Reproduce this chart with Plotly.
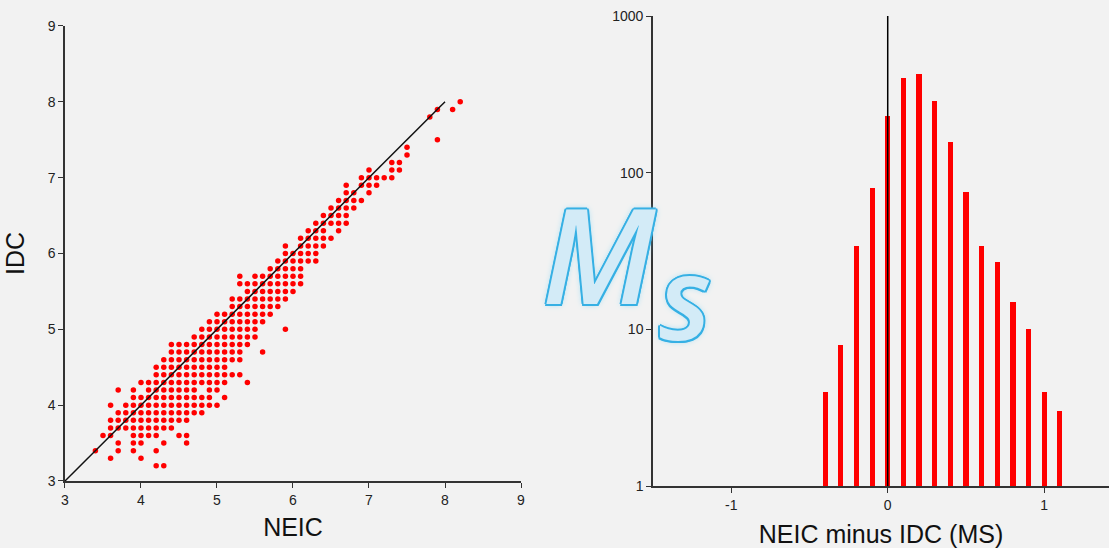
import plotly.graph_objects as go

# ---------------- data: NEIC vs IDC Ms scatter (one row per IDC level) ----------------
idc_levels = [8.0, 7.9, 7.8, 7.5, 7.4, 7.3, 7.2, 7.1, 7.0, 6.9, 6.8, 6.7, 6.6, 6.5, 6.4,
              6.3, 6.2, 6.1, 6.0, 5.9, 5.8, 5.7, 5.6, 5.5, 5.4, 5.3, 5.2, 5.1, 5.0, 4.9,
              4.8, 4.7, 4.6, 4.5, 4.4, 4.3, 4.2, 4.1, 4.0, 3.9, 3.8, 3.7, 3.6, 3.5, 3.4,
              3.3, 3.2]
neic_rows = [
    [8.2],
    [7.9, 8.1],
    [7.8],
    [7.9],
    [7.5],
    [7.5],
    [7.3, 7.4],
    [7.0, 7.3, 7.4],
    [6.9, 7.0, 7.1, 7.2, 7.3],
    [6.7, 6.9, 7.0, 7.1],
    [6.7, 6.8, 7.0],
    [6.6, 6.7, 6.8, 6.9],
    [6.5, 6.6, 6.7, 6.8],
    [6.4, 6.5, 6.6, 6.7],
    [6.3, 6.4, 6.5, 6.6, 6.7],
    [6.2, 6.3, 6.4, 6.6],
    [6.1, 6.2, 6.3, 6.4, 6.5],
    [5.9, 6.1, 6.2, 6.3, 6.4],
    [5.9, 6.0, 6.1, 6.2, 6.3],
    [5.8, 5.9, 6.0, 6.1, 6.2, 6.3],
    [5.7, 5.8, 5.9, 6.0, 6.1],
    [5.3, 5.5, 5.6, 5.7, 5.8, 5.9, 6.0, 6.1],
    [5.3, 5.4, 5.5, 5.6, 5.7, 5.8, 5.9, 6.0, 6.1],
    [5.4, 5.5, 5.6, 5.7, 5.8, 5.9, 6.0],
    [5.2, 5.3, 5.4, 5.5, 5.6, 5.7, 5.8, 5.9],
    [5.2, 5.3, 5.4, 5.5, 5.6, 5.7, 5.8],
    [5.0, 5.1, 5.2, 5.3, 5.4, 5.5, 5.6, 5.7],
    [4.9, 5.0, 5.1, 5.2, 5.3, 5.4, 5.5, 5.6],
    [4.8, 4.9, 5.0, 5.1, 5.2, 5.3, 5.4, 5.5, 5.9],
    [4.7, 4.8, 4.9, 5.0, 5.1, 5.2, 5.3, 5.4, 5.5],
    [4.4, 4.5, 4.6, 4.7, 4.8, 4.9, 5.0, 5.1, 5.2, 5.3, 5.4],
    [4.4, 4.5, 4.6, 4.7, 4.8, 4.9, 5.0, 5.1, 5.2, 5.3, 5.6],
    [4.3, 4.4, 4.5, 4.6, 4.7, 4.8, 4.9, 5.0, 5.1, 5.2, 5.3],
    [4.2, 4.3, 4.4, 4.5, 4.6, 4.7, 4.8, 4.9, 5.0, 5.1],
    [4.2, 4.3, 4.4, 4.5, 4.6, 4.7, 4.8, 4.9, 5.0, 5.1, 5.2, 5.3],
    [4.0, 4.1, 4.2, 4.3, 4.4, 4.5, 4.6, 4.7, 4.8, 4.9, 5.0, 5.1, 5.4],
    [3.7, 3.9, 4.1, 4.2, 4.3, 4.4, 4.5, 4.6, 4.7, 4.9, 5.0],
    [3.9, 4.0, 4.1, 4.2, 4.3, 4.4, 4.5, 4.6, 4.7, 4.8, 4.9, 5.1],
    [3.6, 3.8, 3.9, 4.0, 4.1, 4.2, 4.3, 4.4, 4.5, 4.6, 4.7, 4.8, 4.9, 5.0],
    [3.7, 3.8, 3.9, 4.0, 4.1, 4.2, 4.3, 4.4, 4.5, 4.6, 4.7, 4.8],
    [3.6, 3.7, 3.8, 3.9, 4.0, 4.1, 4.2, 4.3, 4.4, 4.5, 4.6],
    [3.6, 3.7, 3.8, 3.9, 4.0, 4.1, 4.2, 4.3, 4.4],
    [3.5, 3.6, 3.9, 4.0, 4.1, 4.2, 4.5, 4.6],
    [3.7, 3.9, 4.0, 4.3, 4.6],
    [3.4, 3.7, 3.9, 4.2],
    [3.6, 4.0],
    [4.2, 4.3],
]

# 1:1 reference line
diag_x = [3, 8]
diag_y = [3, 8]

# ---------------- data: histogram of NEIC minus IDC (MS) ----------------
diff_bins = [-0.4, -0.3, -0.2, -0.1, 0.0, 0.1, 0.2, 0.3, 0.4, 0.5, 0.6, 0.7, 0.8, 0.9, 1.0, 1.1]
diff_counts = [4, 8, 34, 80, 229, 400, 424, 286, 157, 75, 34, 27, 15, 10, 4, 3]

zero_x = [0, 0]
zero_y = [1, 1000]

left_ticks = [3, 4, 5, 6, 7, 8, 9]
right_xticks = [-1, 0, 1]
right_xlabels = ["-1", "0", "1"]
right_yticks = [1, 10, 100, 1000]
right_ylabels = ["1", "10", "100", "1000"]

# ---------------- build ----------------
neic = []
idc = []
for lvl, xs in zip(idc_levels, neic_rows):
    for v in xs:
        neic.append(v)
        idc.append(lvl)

BG = "#f2f2f2"
AX = "#333333"
FONT = "Liberation Sans, Arial, Helvetica, sans-serif"

fig = go.Figure()
fig.add_trace(go.Scatter(x=neic, y=idc, mode="markers",
                         marker=dict(color="#ff0000", size=5.5, line=dict(width=0)),
                         xaxis="x", yaxis="y", showlegend=False, cliponaxis=False))
fig.add_trace(go.Scatter(x=diag_x, y=diag_y, mode="lines",
                         line=dict(color="#111111", width=1.5),
                         xaxis="x", yaxis="y", showlegend=False))
fig.add_trace(go.Bar(x=diff_bins, y=diff_counts, width=0.033,
                     marker=dict(color="#ff0000", line=dict(width=0)),
                     xaxis="x2", yaxis="y2", showlegend=False))
fig.add_trace(go.Scatter(x=zero_x, y=zero_y, mode="lines",
                         line=dict(color="#000000", width=1.5),
                         xaxis="x2", yaxis="y2", showlegend=False))

axis_common = dict(showgrid=False, zeroline=False, showline=True, linecolor=AX,
                   linewidth=1.5, ticks="outside", ticklen=5, tickwidth=1.2,
                   tickcolor=AX, tickfont=dict(family=FONT, size=14, color="#222222"),
                   automargin=False)

title_font = dict(family=FONT, size=25, color="#111111")

shadow = ("2px 0 0 #36b0e4, -2px 0 0 #36b0e4, 0 2px 0 #36b0e4, 0 -2px 0 #36b0e4, "
          "1.5px 1.5px 0 #36b0e4, -1.5px -1.5px 0 #36b0e4, 1.5px -1.5px 0 #36b0e4, "
          "-1.5px 1.5px 0 #36b0e4, 0 0 6px #7fd4f5")

fig.update_layout(
    width=1109, height=548,
    margin=dict(l=0, r=0, t=0, b=0),
    paper_bgcolor=BG, plot_bgcolor=BG,
    showlegend=False,
    bargap=0,
    xaxis=dict(axis_common, domain=[0.0586, 0.4698], range=[3, 9], tickvals=left_ticks,
               anchor="y", title=dict(text="NEIC", font=title_font, standoff=12)),
    yaxis=dict(axis_common, domain=[0.1223, 0.9526], range=[3, 9], tickvals=left_ticks,
               anchor="x", title=dict(text="IDC", font=title_font, standoff=16)),
    xaxis2=dict(axis_common, domain=[0.5888, 1.0], range=[-1.5, 1.414],
                tickvals=right_xticks, ticktext=right_xlabels, anchor="y2",
                title=dict(text="NEIC minus IDC (MS)", font=title_font, standoff=16)),
    yaxis2=dict(axis_common, domain=[0.1131, 0.9708], type="log", range=[0, 3],
                tickvals=right_yticks, ticktext=right_ylabels, anchor="x2"),
    annotations=[
        dict(text="M", xref="paper", yref="paper", x=0.5405, y=0.538,
             xanchor="center", yanchor="middle", showarrow=False,
             font=dict(family="Open Sans", size=132, color="#d3ebf7", style="italic",
                       weight=600, shadow=shadow)),
        dict(text="s", xref="paper", yref="paper", x=0.6177, y=0.4617,
             xanchor="center", yanchor="middle", showarrow=False,
             font=dict(family="Open Sans", size=116, color="#d3ebf7", style="italic",
                       weight=600, shadow=shadow)),
    ],
)

fig.write_html("out.html", config={"displayModeBar": False},
               post_script="document.body.style.margin='0px';")
